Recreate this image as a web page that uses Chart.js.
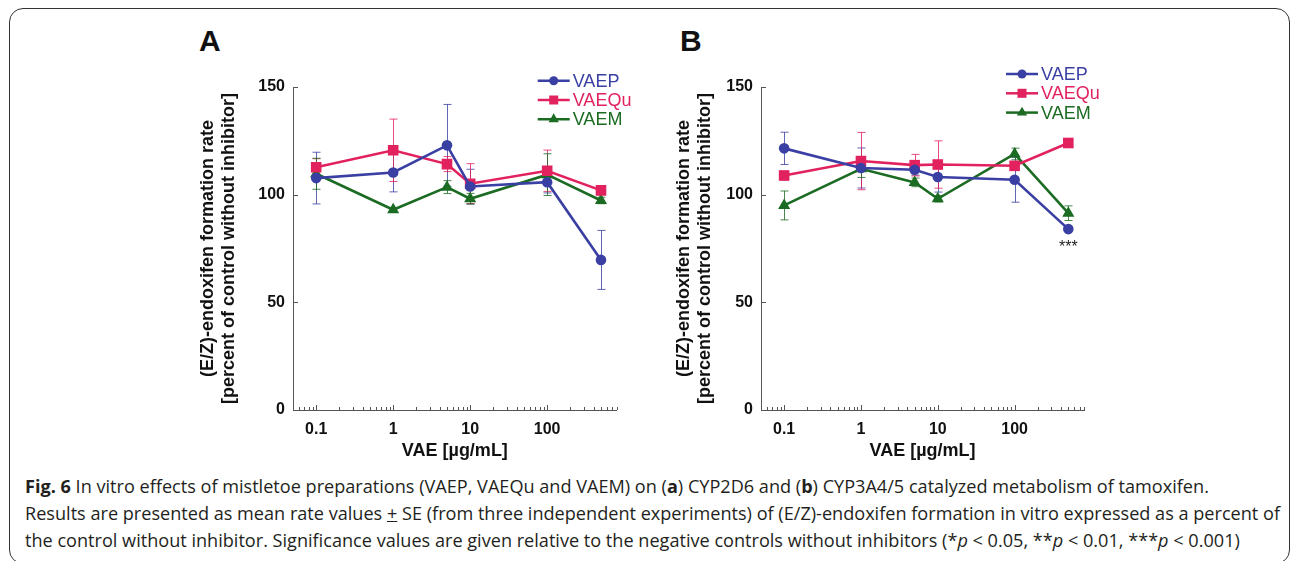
<!DOCTYPE html>
<html>
<head>
<meta charset="utf-8">
<script src="https://cdn.jsdelivr.net/npm/chart.js@4.4.0/dist/chart.umd.min.js"></script>
<style>
html, body { margin: 0; padding: 0; background: #fff; }
body { width: 1290px; height: 561px; position: relative; overflow: hidden; font-family: "Liberation Sans", Arial, sans-serif; }
#frame { position: absolute; left: 9px; top: 8px; width: 1281px; height: 556px; border: 1.5px solid #333; border-radius: 14px; box-sizing: border-box; }
.letter { position: absolute; top: 26px; font-size: 30px; line-height: 30px; font-weight: bold; color: #111; }
canvas { position: absolute; top: 55px; }
#caption { position: absolute; left: 25px; top: 472px; font-family: "Open Sans", sans-serif; font-size: 18.5px; line-height: 27px; color: #231f20; white-space: nowrap; transform-origin: 0 0; }
#caption div { display: inline-block; }
</style>
</head>
<body>
<div id="frame"></div>
<div class="letter" style="left:199px">A</div>
<div class="letter" style="left:680px">B</div>
<canvas id="chartA" width="490" height="415" style="left:150px"></canvas>
<canvas id="chartB" width="480" height="415" style="left:640px"></canvas>
<div id="caption">
  <div id="cap1"><b>Fig. 6</b> In vitro effects of mistletoe preparations (VAEP, VAEQu and VAEM) on (<b>a</b>) CYP2D6 and (<b>b</b>) CYP3A4/5 catalyzed metabolism of tamoxifen.</div><br>
  <div id="cap2">Results are presented as mean rate values <u>+</u> SE (from three independent experiments) of (E/Z)-endoxifen formation in vitro expressed as a percent of</div><br>
  <div id="cap3">the control without inhibitor. Significance values are given relative to the negative controls without inhibitors (*<i>p</i> &lt; 0.05, **<i>p</i> &lt; 0.01, ***<i>p</i> &lt; 0.001)</div>
</div>
<script>
// concentrations (µg/mL)
const doses = [0.1, 1, 5, 10, 100, 500];
const seriesNames = ['VAEP', 'VAEQu', 'VAEM'];
const seriesColors = ['#3a3fa3', '#e2225f', '#1b6b22'];
const pointShapes = ['circle', 'rect', 'triangle'];
const pointSizes = [5.3, 7.5, 7];

// panel A - CYP2D6
const aVAEP = [107.7, 110.3, 122.9, 103.8, 105.8, 69.7];
const aVAEPse = [12.0, 9.0, 19.0, 8.0, 5.0, 13.7];
const aVAEQu = [112.7, 120.6, 114.2, 105.1, 111.1, 102.0];
const aVAEQuSe = [4.0, 14.5, 3.5, 9.3, 9.6, 2.0];
const aVAEM = [109.7, 93.0, 103.5, 98.1, 109.3, 97.3];
const aVAEMse = [7.2, 1.0, 3.0, 2.5, 9.7, 1.5];

// panel B - CYP3A4/5
const bVAEP = [121.5, 112.4, 111.6, 108.2, 106.9, 84.0];
const bVAEPse = [7.5, 9.3, 2.5, 7.0, 10.4, 1.0];
const bVAEQu = [108.9, 115.6, 113.7, 114.0, 113.4, 124.0];
const bVAEQuSe = [2.0, 13.3, 5.0, 11.0, 2.0, 1.0];
const bVAEM = [95.0, 112.0, 105.7, 98.1, 118.9, 91.4];
const bVAEMse = [6.7, 4.0, 2.0, 1.5, 2.7, 3.4];
const bVAEPsig = ['', '', '', '', '', '***'];

const xTickValues = [0.1, 1, 10, 100];
const xTickLabels = ['0.1', '1', '10', '100'];
const yTickValues = [0, 50, 100, 150];

const FONT = '"Liberation Sans", Arial, sans-serif';

function drawMarker(ctx, style, cx, cy, r) {
  ctx.beginPath();
  if (style === 'circle') {
    ctx.arc(cx, cy, r, 0, Math.PI * 2);
  } else if (style === 'rect') {
    const h = r * Math.SQRT1_2;
    ctx.rect(cx - h, cy - h, 2 * h, 2 * h);
  } else {
    ctx.moveTo(cx, cy - r);
    ctx.lineTo(cx + r * 0.866, cy + r / 2);
    ctx.lineTo(cx - r * 0.866, cy + r / 2);
    ctx.closePath();
  }
  ctx.fill();
}

// error bars drawn from the SE arrays through the chart scales
const errorBars = {
  id: 'errorBars',
  beforeDatasetsDraw(chart) {
    const { ctx, scales: { x, y } } = chart;
    chart.data.datasets.forEach((ds) => {
      ctx.save();
      ctx.strokeStyle = ds.borderColor;
      ctx.globalAlpha = 0.8;
      ctx.lineWidth = 1;
      ds.data.forEach((p, j) => {
        const px = Math.round(x.getPixelForValue(p.x)) + 0.5;
        const top = y.getPixelForValue(p.y + ds.se[j]);
        const bot = y.getPixelForValue(p.y - ds.se[j]);
        ctx.beginPath();
        ctx.moveTo(px, top); ctx.lineTo(px, bot);
        ctx.moveTo(px - 4, top); ctx.lineTo(px + 4, top);
        ctx.moveTo(px - 4, bot); ctx.lineTo(px + 4, bot);
        ctx.stroke();
      });
      ctx.restore();
    });
  }
};

// tick marks point into the plot
const innerTicks = {
  id: 'innerTicks',
  afterDraw(chart) {
    const { ctx, scales: { x, y }, chartArea: a } = chart;
    ctx.save();
    ctx.strokeStyle = '#555';
    ctx.lineWidth = 1;
    ctx.beginPath();
    y.ticks.forEach((t) => {
      if (t.value === 0) return;
      const py = Math.round(y.getPixelForValue(t.value)) + 0.5;
      ctx.moveTo(a.left, py); ctx.lineTo(a.left + 5, py);
    });
    x.ticks.forEach((t) => {
      const px = Math.round(x.getPixelForValue(t.value)) + 0.5;
      const len = xTickValues.includes(t.value) ? 5 : 3;
      ctx.moveTo(px, a.bottom); ctx.lineTo(px, a.bottom - len);
    });
    ctx.stroke();
    ctx.restore();
  }
};

const seriesLegend = {
  id: 'seriesLegend',
  afterDraw(chart, args, opts) {
    const { ctx, chartArea: a } = chart;
    const x0 = a.right - opts.fromRight;
    chart.data.datasets.forEach((ds, i) => {
      const cy = a.top + opts.fromTop + i * 19.3;
      ctx.save();
      ctx.strokeStyle = ds.borderColor;
      ctx.fillStyle = ds.borderColor;
      ctx.lineWidth = 2.5;
      ctx.beginPath();
      ctx.moveTo(x0, cy); ctx.lineTo(x0 + 32, cy);
      ctx.stroke();
      drawMarker(ctx, ds.pointStyle, x0 + 16, cy, ds.pointRadius * 0.85);
      ctx.font = '18px ' + FONT;
      ctx.textBaseline = 'middle';
      ctx.textAlign = 'left';
      ctx.fillText(ds.label, x0 + 35, cy + 1);
      ctx.restore();
    });
  }
};

const sigMarks = {
  id: 'sigMarks',
  afterDatasetsDraw(chart) {
    const { ctx, scales: { x, y } } = chart;
    chart.data.datasets.forEach((ds) => {
      if (!ds.sig) return;
      ds.data.forEach((p, j) => {
        if (!ds.sig[j]) return;
        ctx.save();
        ctx.fillStyle = '#222';
        ctx.font = '16px ' + FONT;
        ctx.textAlign = 'center';
        ctx.textBaseline = 'middle';
        ctx.fillText(ds.sig[j], x.getPixelForValue(p.x), y.getPixelForValue(p.y) + 18);
        ctx.restore();
      });
    });
  }
};

function logTicks(min, max) {
  const out = [];
  for (let e = -2; e <= 3; e++) {
    for (let m = 1; m <= 9; m++) {
      const v = parseFloat((m * Math.pow(10, e)).toPrecision(3));
      if (v >= min && v <= max) out.push({ value: v });
    }
  }
  return out;
}

function makeChart(id, sets, o) {
  return new Chart(document.getElementById(id), {
    type: 'line',
    data: {
      datasets: sets.map((s, i) => ({
        label: seriesNames[i],
        data: doses.map((d, j) => ({ x: d, y: s.values[j] })),
        se: s.se,
        sig: s.sig || null,
        borderColor: seriesColors[i],
        backgroundColor: seriesColors[i],
        pointBackgroundColor: seriesColors[i],
        borderWidth: 2.6,
        pointStyle: pointShapes[i],
        pointRadius: pointSizes[i],
        pointBorderWidth: 0,
        tension: 0
      }))
    },
    options: {
      responsive: false,
      animation: false,
      events: [],
      layout: { padding: { top: 32, right: o.padRight, bottom: 0, left: 0 } },
      plugins: {
        legend: { display: false },
        tooltip: { enabled: false },
        seriesLegend: { fromRight: o.legRight, fromTop: o.legTop }
      },
      scales: {
        x: {
          type: 'logarithmic',
          min: 0.05,
          max: 800,
          grid: { display: false, drawTicks: false },
          border: { display: true, color: '#555', width: 1 },
          afterBuildTicks: (s) => { s.ticks = logTicks(s.min, s.max); },
          afterFit: (s) => { s.height = 60; },
          ticks: {
            autoSkip: false,
            maxRotation: 0,
            padding: 10,
            color: '#111',
            font: { family: FONT, size: 16, weight: 'bold' },
            callback: (v) => {
              const k = xTickValues.indexOf(v);
              return k >= 0 ? xTickLabels[k] : '';
            }
          },
          title: {
            display: true,
            text: 'VAE [µg/mL]',
            color: '#111',
            font: { family: FONT, size: 18, weight: 'bold' },
            padding: { top: 0, bottom: 7.7 }
          }
        },
        y: {
          type: 'linear',
          min: 0,
          max: 150,
          grid: { display: false, drawTicks: false },
          border: { display: true, color: '#555', width: 1 },
          afterBuildTicks: (s) => { s.ticks = yTickValues.map((v) => ({ value: v })); },
          afterFit: (s) => { s.width = o.yWidth; },
          ticks: {
            padding: 8,
            color: '#111',
            font: { family: FONT, size: 16, weight: 'bold' }
          },
          title: {
            display: true,
            text: ['(E/Z)-endoxifen formation rate', '[percent of control without inhibitor]'],
            color: '#111',
            font: { family: FONT, size: 18, weight: 'bold', lineHeight: 1.167 },
            padding: { top: o.titlePad, bottom: 0 }
          }
        }
      }
    },
    plugins: [errorBars, innerTicks, seriesLegend, sigMarks]
  });
}

makeChart('chartA', [
  { values: aVAEP, se: aVAEPse },
  { values: aVAEQu, se: aVAEQuSe },
  { values: aVAEM, se: aVAEMse }
], { padRight: 23.3, yWidth: 143, titlePad: 47.8, legRight: 79, legTop: -6.3 });

makeChart('chartB', [
  { values: bVAEP, se: bVAEPse, sig: bVAEPsig },
  { values: bVAEQu, se: bVAEQuSe },
  { values: bVAEM, se: bVAEMse }
], { padRight: 36, yWidth: 121, titlePad: 33.5, legRight: 78, legTop: -13 });

// squeeze the caption to the reference's condensed width
const cap2 = document.getElementById('cap2').getBoundingClientRect().width;
document.getElementById('caption').style.transform = 'scaleX(' + (1255 / cap2) + ')';
</script>
</body>
</html>
